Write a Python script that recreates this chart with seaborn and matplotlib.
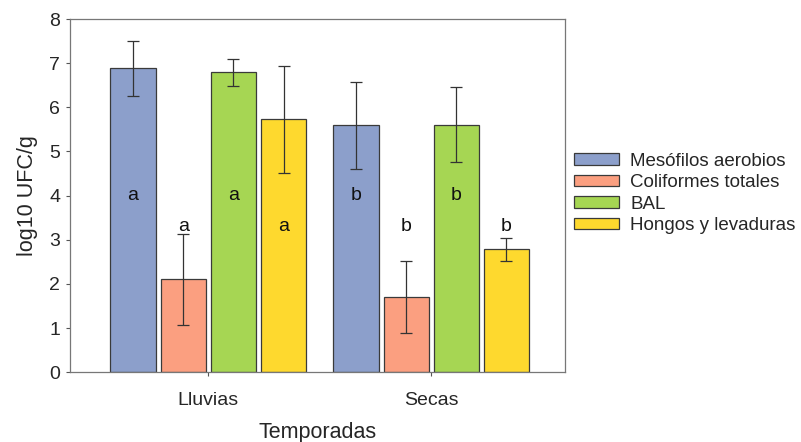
import numpy as np
import pandas as pd
import matplotlib.pyplot as plt
import seaborn as sns

seasons = ['Lluvias', 'Secas']
groups = ['Mesófilos aerobios', 'Coliformes totales', 'BAL', 'Hongos y levaduras']
means_lluvias = [6.88, 2.10, 6.79, 5.73]
means_secas = [5.59, 1.70, 5.61, 2.78]
err_lluvias = [0.62, 1.03, 0.31, 1.21]
err_secas = [0.98, 0.81, 0.84, 0.27]
letters_lluvias = ['a', 'a', 'a', 'a']
letters_secas = ['b', 'b', 'b', 'b']
letter_y = [4.0, 3.3, 4.0, 3.3]
colors = ['#8c9fcb', '#fb9f80', '#a6d653', '#fed92e']

df = pd.DataFrame({
    'Temporada': np.repeat(seasons, len(groups)),
    'Grupo': groups * 2,
    'valor': means_lluvias + means_secas,
    'err': err_lluvias + err_secas,
    'letra': letters_lluvias + letters_secas,
    'ly': letter_y * 2,
})

sns.set_style('white')
plt.rcParams['font.family'] = ['Liberation Sans', 'DejaVu Sans']

fig = plt.figure(figsize=(8.01, 4.42), dpi=100)
ax = fig.add_axes([0.0874, 0.158, 0.618, 0.799])

sns.barplot(data=df, x='Temporada', y='valor', hue='Grupo', order=seasons,
            hue_order=groups, palette=colors, width=0.9, gap=0.1,
            errorbar=None, edgecolor='#3a3a3a', linewidth=0.9, saturation=1,
            ax=ax)

# error bars and letters placed at bar centres
for i, g in enumerate(groups):
    cont = ax.containers[i]
    sub = df[df['Grupo'] == g].set_index('Temporada').loc[seasons]
    xs = [p.get_x() + p.get_width() / 2 for p in cont.patches]
    ax.errorbar(xs, sub['valor'], yerr=sub['err'], fmt='none', ecolor='#333333',
                elinewidth=0.9, capsize=4, capthick=0.9)
    for x, (_, r) in zip(xs, sub.iterrows()):
        ax.text(x, r['ly'], r['letra'], ha='center', va='center', fontsize=14,
                color='#111111')

ax.set_ylim(0, 8)
ax.set_xlim(-0.62, 1.60)
ax.set_yticks(range(0, 9))
ax.tick_params(axis='y', left=True, length=3, width=0.8, color='#555555',
               labelsize=14, pad=4)
ax.tick_params(axis='x', bottom=True, length=3, width=0.8, color='#555555',
               labelsize=14, pad=11)
for s in ax.spines.values():
    s.set_color('#777777')
    s.set_linewidth(0.9)

ax.set_ylabel('log10 UFC/g', fontsize=15.5, labelpad=8)
ax.set_xlabel('Temporadas', fontsize=15.5, labelpad=10)

ax.legend(loc='center left', bbox_to_anchor=(1.018, 0.506), frameon=False,
          fontsize=13.5, handlelength=2.4, handleheight=0.55, handletextpad=0.6,
          labelspacing=0.24, borderaxespad=0, borderpad=0)

plt.savefig('out.png', dpi=100)
